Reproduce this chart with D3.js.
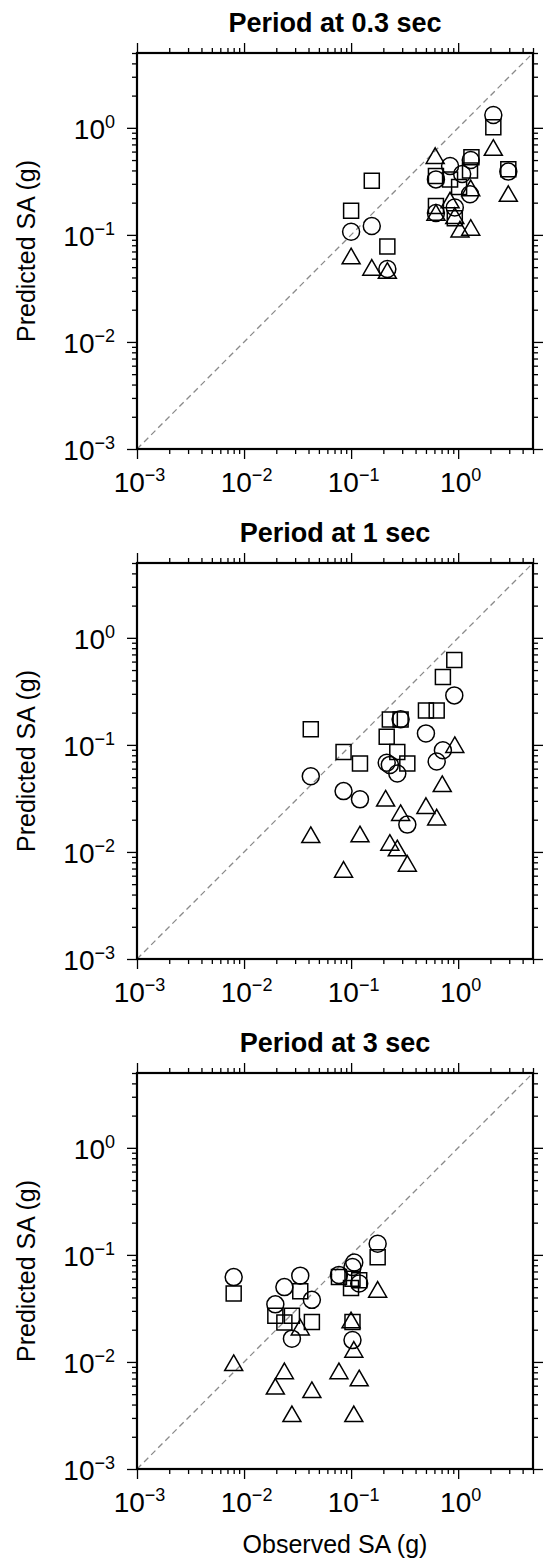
<!DOCTYPE html>
<html>
<head>
<meta charset="utf-8">
<script src="https://cdn.jsdelivr.net/npm/d3@7"></script>
<style>
  body { margin: 0; background: #fff; }
  text { font-family: "Liberation Sans", Arial, Helvetica, sans-serif; fill: #000; }
</style>
</head>
<body>
<div class="chart"></div>
<script>
const titles = ["Period at 0.3 sec", "Period at 1 sec", "Period at 3 sec"];
const tickExps = [-3, -2, -1, 0];
const yLabel = "Predicted SA (g)";
const xLabel = "Observed SA (g)";

// [observed, predicted] pairs, one array per symbol and period
const circles03 = [[2.13,1.32],[0.84,0.44],[1.31,0.50],[1.09,0.37],[0.62,0.33],[2.94,0.39],[1.29,0.24],[0.93,0.18],[0.62,0.16],[0.10,0.107],[0.156,0.121],[0.218,0.048]];
const squares03 = [[2.13,1.01],[1.33,0.53],[1.29,0.40],[2.94,0.41],[0.62,0.355],[0.84,0.33],[1.02,0.28],[0.62,0.186],[0.93,0.143],[0.156,0.32],[0.10,0.168],[0.218,0.078]];
const triangles03 = [[2.13,0.62],[0.61,0.52],[1.31,0.26],[0.84,0.20],[2.94,0.23],[0.62,0.153],[0.93,0.143],[1.04,0.107],[1.31,0.111],[0.10,0.060],[0.156,0.047],[0.218,0.044]];

const circles1 = [[0.92,0.29],[0.29,0.174],[0.50,0.128],[0.72,0.089],[0.63,0.070],[0.215,0.068],[0.23,0.065],[0.27,0.054],[0.042,0.051],[0.085,0.037],[0.121,0.031],[0.335,0.018]];
const squares1 = [[0.92,0.62],[0.72,0.43],[0.50,0.21],[0.63,0.21],[0.23,0.173],[0.29,0.173],[0.042,0.14],[0.215,0.119],[0.085,0.086],[0.27,0.086],[0.121,0.067],[0.335,0.067]];
const triangles1 = [[0.93,0.095],[0.71,0.041],[0.21,0.030],[0.50,0.0256],[0.29,0.022],[0.63,0.020],[0.042,0.0137],[0.121,0.0139],[0.23,0.0116],[0.27,0.0103],[0.085,0.0065],[0.335,0.0074]];

const circles3 = [[0.177,0.127],[0.107,0.085],[0.103,0.077],[0.077,0.065],[0.119,0.054],[0.008,0.062],[0.0335,0.064],[0.0238,0.050],[0.043,0.038],[0.0196,0.0345],[0.028,0.0165],[0.103,0.016]];
const squares3 = [[0.177,0.095],[0.077,0.062],[0.103,0.060],[0.119,0.058],[0.0998,0.049],[0.008,0.0435],[0.0335,0.0457],[0.0196,0.027],[0.028,0.027],[0.0238,0.0233],[0.043,0.0236],[0.103,0.0236]];
const triangles3 = [[0.177,0.045],[0.0998,0.0233],[0.0335,0.020],[0.106,0.0124],[0.008,0.0093],[0.0238,0.0078],[0.077,0.0078],[0.119,0.0067],[0.0196,0.0056],[0.043,0.0052],[0.028,0.0031],[0.106,0.0031]];

const panels = [
  {title: titles[0], circles: circles03, squares: squares03, triangles: triangles03},
  {title: titles[1], circles: circles1, squares: squares1, triangles: triangles1},
  {title: titles[2], circles: circles3, squares: squares3, triangles: triangles3}
];

const W = 546, H = 1564;
const left = 137, top0 = 53, size = 396, step = 510;

const svg = d3.select('.chart').append('svg')
  .attr('width', W)
  .attr('height', H);

const x = d3.scaleLog().domain([1e-3, 5]).range([0, size]);
const y = d3.scaleLog().domain([1e-3, 5]).range([size, 0]);

const majors = tickExps.map(e => Math.pow(10, e));
const minors = [];
tickExps.forEach(e => {
  for (let k = 2; k <= 9; k++) {
    const v = k * Math.pow(10, e);
    if (v <= 5.0001) minors.push(v);
  }
});

function supLabel(sel, e) {
  sel.text(null);
  sel.append('tspan').text('10');
  sel.append('tspan')
    .attr('dy', -11)
    .attr('font-size', 18)
    .text(e < 0 ? '\u2212' + (-e) : String(e));
}

function drawAxis(g, axisFn, scale, transform, labels, side) {
  const ga = g.append('g').attr('transform', transform);
  ga.append('g').call(axisFn(scale).tickValues(minors).tickSize(5).tickFormat(''));
  const gm = ga.append('g').call(axisFn(scale).tickValues(majors).tickSize(10).tickFormat(''));
  ga.selectAll('.domain').remove();
  ga.selectAll('.tick line').attr('stroke', '#000').attr('stroke-width', 1.3);
  ga.selectAll('.tick text').remove();
  if (labels) {
    gm.selectAll('.tick').each(function(d) {
      const e = Math.round(Math.log10(d));
      const t = d3.select(this).append('text')
        .attr('font-size', 28);
      if (side === 'bottom') {
        t.attr('x', 2).attr('y', 43).attr('text-anchor', 'middle');
      } else {
        t.attr('x', -22).attr('y', 10.5).attr('text-anchor', 'end');
      }
      supLabel(t, e);
    });
  }
}

const sym = {
  circles: d3.symbol().type(d3.symbolCircle).size(Math.PI * 8.5 * 8.5),
  squares: d3.symbol().type(d3.symbolSquare).size(15 * 15),
  triangles: d3.symbol().type(d3.symbolTriangle).size(Math.sqrt(3) / 4 * 18 * 18)
};

panels.forEach((p, i) => {
  const top = top0 + i * step;
  const g = svg.append('g').attr('transform', `translate(${left},${top})`);

  // title
  g.append('text')
    .attr('x', size / 2)
    .attr('y', -21)
    .attr('text-anchor', 'middle')
    .attr('font-size', 27)
    .attr('font-weight', 'bold')
    .text(p.title);

  // 1:1 line
  g.append('line')
    .attr('x1', x(1e-3)).attr('y1', y(1e-3))
    .attr('x2', x(5)).attr('y2', y(5))
    .attr('stroke', '#8a8a8a')
    .attr('stroke-width', 1.3)
    .attr('stroke-dasharray', '6,4');

  // symbols
  ['circles', 'squares', 'triangles'].forEach(k => {
    g.selectAll('.' + k)
      .data(p[k])
      .enter().append('path')
      .attr('class', k)
      .attr('d', sym[k])
      .attr('transform', d => `translate(${x(d[0])},${y(d[1])})`)
      .attr('fill', 'none')
      .attr('stroke', '#000')
      .attr('stroke-width', 1.5);
  });

  // axes
  drawAxis(g, d3.axisBottom, x, `translate(0,${size})`, true, 'bottom');
  drawAxis(g, d3.axisTop, x, 'translate(0,0)', false, 'top');
  drawAxis(g, d3.axisLeft, y, 'translate(0,0)', true, 'left');
  drawAxis(g, d3.axisRight, y, `translate(${size},0)`, false, 'right');

  // frame
  g.append('rect')
    .attr('width', size).attr('height', size)
    .attr('fill', 'none')
    .attr('stroke', '#000')
    .attr('stroke-width', 2.2);

  // y axis label
  svg.append('text')
    .attr('transform', `translate(35,${top + size / 2}) rotate(-90)`)
    .attr('text-anchor', 'middle')
    .attr('font-size', 25)
    .text(yLabel);
});

svg.append('text')
  .attr('x', left + size / 2)
  .attr('y', top0 + 2 * step + size + 84)
  .attr('text-anchor', 'middle')
  .attr('font-size', 25)
  .text(xLabel);
</script>
</body>
</html>
